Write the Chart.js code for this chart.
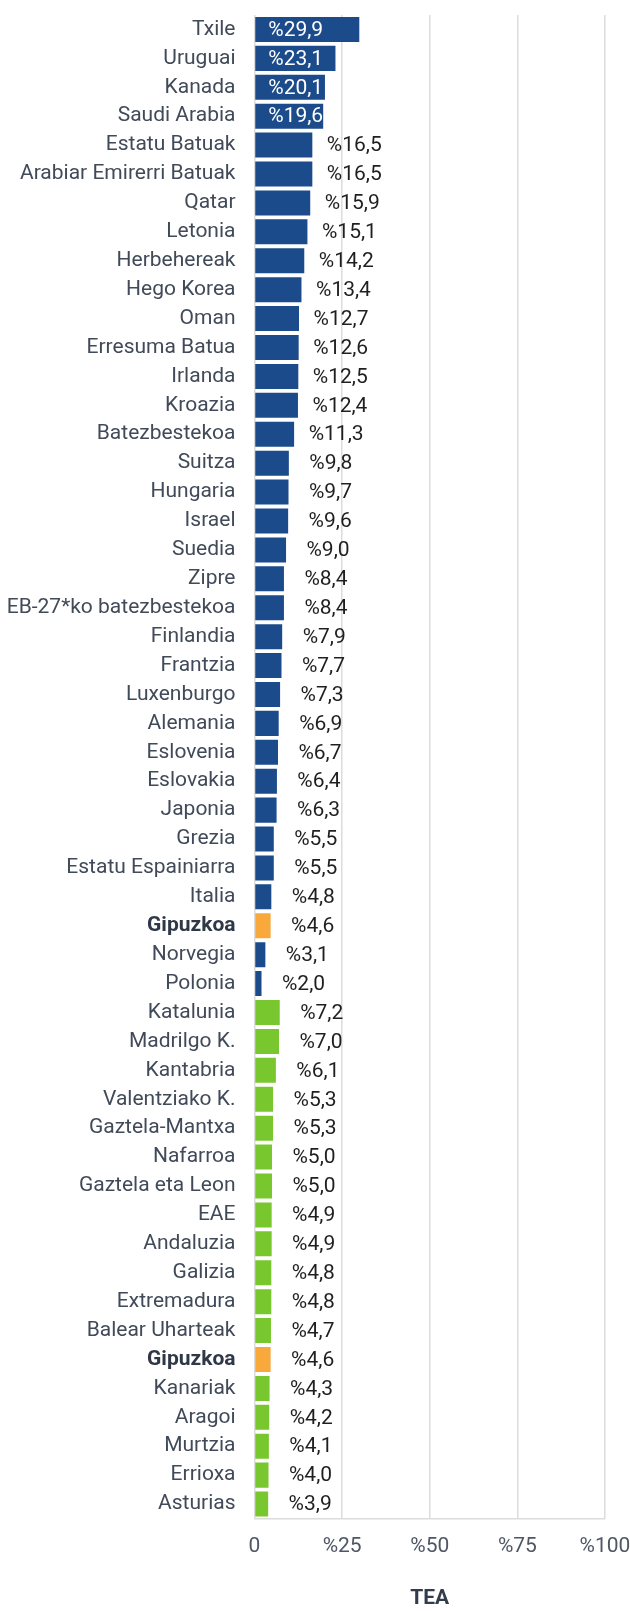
<!DOCTYPE html>
<html>
<head>
<meta charset="utf-8">
<script src="https://cdn.jsdelivr.net/npm/chart.js@4"></script>
<style>
  html, body { margin: 0; padding: 0; background: #fff; }
  #wrap { width: 630px; height: 1611px; position: relative; }
</style>
</head>
<body>
<div id="wrap"><canvas id="teaChart"></canvas></div>
<script>
'use strict';

/* ---- Data ---- */
const categories = [
  'Txile', 'Uruguai', 'Kanada', 'Saudi Arabia', 'Estatu Batuak', 'Arabiar Emirerri Batuak',
  'Qatar', 'Letonia', 'Herbehereak', 'Hego Korea', 'Oman', 'Erresuma Batua', 'Irlanda',
  'Kroazia', 'Batezbestekoa', 'Suitza', 'Hungaria', 'Israel', 'Suedia', 'Zipre',
  'EB-27*ko batezbestekoa', 'Finlandia', 'Frantzia', 'Luxenburgo', 'Alemania', 'Eslovenia',
  'Eslovakia', 'Japonia', 'Grezia', 'Estatu Espainiarra', 'Italia', 'Gipuzkoa', 'Norvegia',
  'Polonia',
  'Katalunia', 'Madrilgo K.', 'Kantabria', 'Valentziako K.', 'Gaztela-Mantxa', 'Nafarroa',
  'Gaztela eta Leon', 'EAE', 'Andaluzia', 'Galizia', 'Extremadura', 'Balear Uharteak',
  'Gipuzkoa', 'Kanariak', 'Aragoi', 'Murtzia', 'Errioxa', 'Asturias'
];
const teaValues = [
  29.9, 23.1, 20.1, 19.6, 16.5, 16.5,
  15.9, 15.1, 14.2, 13.4, 12.7, 12.6, 12.5,
  12.4, 11.3, 9.8, 9.7, 9.6, 9.0, 8.4,
  8.4, 7.9, 7.7, 7.3, 6.9, 6.7,
  6.4, 6.3, 5.5, 5.5, 4.8, 4.6, 3.1,
  2.0,
  7.2, 7.0, 6.1, 5.3, 5.3, 5.0,
  5.0, 4.9, 4.9, 4.8, 4.8, 4.7,
  4.6, 4.3, 4.2, 4.1, 4.0, 3.9
];
// c = country, g = Gipuzkoa, r = Spanish region
const groups = [
  'c','c','c','c','c','c','c','c','c','c','c','c','c','c','c','c','c','c','c','c',
  'c','c','c','c','c','c','c','c','c','c','c','g','c','c',
  'r','r','r','r','r','r','r','r','r','r','r','r','g','r','r','r','r','r'
];
const xTicks = [0, 25, 50, 75, 100];

const COLORS = {
  c: '#1b4b8b',
  g: '#f9a93b',
  r: '#79c72f',
  grid: '#dcdcdc',
  label: '#414a59',
  value: '#1f1f1f',
  tick: '#4f5766',
  title: '#333c4b'
};
const FAMILY = "Roboto, 'Noto Sans', sans-serif";
const FSIZE = 21;

function fmt(v) {
  return '%' + v.toFixed(1).replace('.', ',');
}

/* ---- Value labels ---- */
const valueLabels = {
  id: 'valueLabels',
  afterDatasetsDraw(chart) {
    const c = chart.ctx;
    const meta = chart.getDatasetMeta(0);
    c.save();
    c.font = `${FSIZE}px ${FAMILY}`;
    c.textBaseline = 'middle';
    meta.data.forEach((bar, i) => {
      const v = teaValues[i];
      if (v >= 19) {
        c.fillStyle = '#ffffff';
        c.textAlign = 'left';
        c.fillText(fmt(v), bar.base + 13, bar.y + 1);
      } else {
        c.fillStyle = COLORS.value;
        c.textAlign = 'center';
        c.fillText(fmt(v), bar.x + 42, bar.y + 1);
      }
    });
    c.restore();
  }
};

new Chart(document.getElementById('teaChart'), {
  type: 'bar',
  data: {
    labels: categories,
    datasets: [{
      data: teaValues,
      backgroundColor: groups.map(g => COLORS[g]),
      borderWidth: 0,
      barPercentage: 0.865,
      categoryPercentage: 1
    }]
  },
  options: {
    indexAxis: 'y',
    responsive: true,
    maintainAspectRatio: false,
    animation: false,
    layout: { padding: { top: 15, right: 25, left: 0, bottom: 0 } },
    plugins: { legend: { display: false }, tooltip: { enabled: false } },
    scales: {
      x: {
        min: 0, max: 100,
        afterBuildTicks: s => { s.ticks = xTicks.map(v => ({ value: v })); },
        afterFit: s => {
          s.height = 92.5;
          s.paddingLeft = 0;
          s.paddingRight = 0;
        },
        grid: { color: COLORS.grid, lineWidth: 1.5, drawTicks: false },
        border: { color: COLORS.grid, width: 1.5 },
        ticks: {
          padding: 16,
          color: COLORS.tick,
          font: { family: FAMILY, size: FSIZE },
          callback: v => v === 0 ? '0' : '%' + v
        },
        title: {
          display: true,
          text: 'TEA',
          color: COLORS.title,
          font: { family: FAMILY, size: FSIZE, weight: 'bold' },
          padding: { top: 0, bottom: 0 }
        }
      },
      y: {
        afterFit: s => {
          s.width = 254.5;
          s.paddingTop = 0;
          s.paddingBottom = 0;
        },
        grid: { display: false },
        border: { display: false },
        ticks: {
          padding: 11,
          color: ctx => groups[ctx.index] === 'g' ? '#2f3847' : COLORS.label,
          font: ctx => ({
            family: FAMILY,
            size: FSIZE,
            weight: groups[ctx.index] === 'g' ? 'bold' : 'normal'
          })
        }
      }
    }
  },
  plugins: [valueLabels]
});
</script>
</body>
</html>
